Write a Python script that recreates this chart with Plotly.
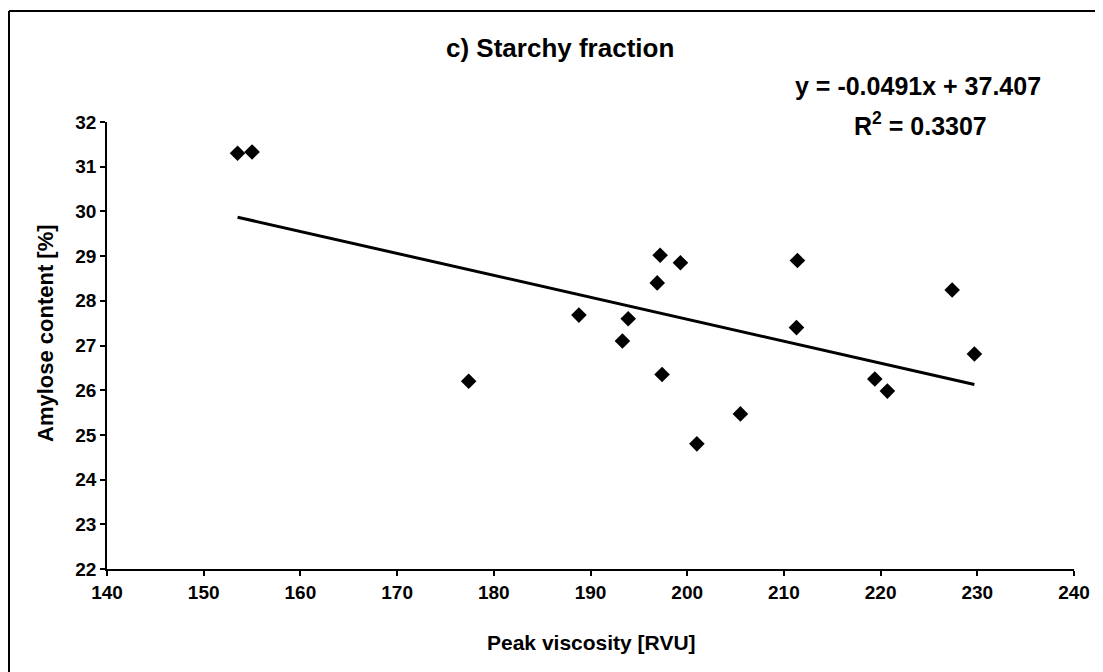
import plotly.graph_objects as go

# Data
peak_viscosity = [153.5, 155.0, 177.4, 188.8, 193.3, 193.9, 196.9, 197.2, 197.4,
                  199.3, 201.0, 205.5, 211.3, 211.4, 219.4, 220.7, 227.4, 229.7]
amylose = [31.3, 31.33, 26.2, 27.68, 27.1, 27.6, 28.4, 29.02, 26.35,
           28.85, 24.8, 25.47, 27.4, 28.9, 26.25, 25.98, 28.24, 26.81]

slope = -0.0491
intercept = 37.407
r_squared = 0.3307

x_ticks = [140, 150, 160, 170, 180, 190, 200, 210, 220, 230, 240]
y_ticks = [22, 23, 24, 25, 26, 27, 28, 29, 30, 31, 32]

FONT = "Arial, 'Liberation Sans', sans-serif"

trend_x = [min(peak_viscosity), max(peak_viscosity)]
trend_y = [slope * v + intercept for v in trend_x]

fig = go.Figure()
fig.add_trace(go.Scatter(
    x=trend_x, y=trend_y, mode="lines",
    line=dict(color="black", width=3), hoverinfo="skip", showlegend=False))
fig.add_trace(go.Scatter(
    x=peak_viscosity, y=amylose, mode="markers",
    marker=dict(symbol="diamond", size=12, color="black"), showlegend=False))

# page has an 8px body margin; figure occupies page 8..1103 x 8..672
OFF = 8
W, H = 1103 - OFF, 672 - OFF
L, T = 107 - OFF, 122 - OFF
pw, ph = 967, 447
R = W - L - pw
B = H - T - ph

def px(page_x):
    return (page_x - OFF - L) / pw

def py(page_y):
    return (T + ph - (page_y - OFF)) / ph

def label(text, x, y, size, angle=0):
    return dict(text=text, xref="paper", yref="paper", x=px(x), y=py(y),
                xanchor="center", yanchor="middle", showarrow=False,
                textangle=angle, font=dict(size=size, family=FONT, color="black"))

fig.update_layout(
    width=W, height=H,
    margin=dict(l=L, r=R, t=T, b=B),
    paper_bgcolor="white", plot_bgcolor="white",
    font=dict(family=FONT, color="black"),
    xaxis=dict(
        range=[140, 240], tickvals=x_ticks,
        ticktext=[f"<b>{v}</b>" for v in x_ticks],
        ticks="outside", ticklen=5,
        tickwidth=1.5, tickcolor="black", showline=True, linecolor="black",
        linewidth=1.5, showgrid=False, zeroline=False,
        tickfont=dict(size=19, family=FONT, color="black", weight="bold"),
    ),
    yaxis=dict(
        range=[22, 32], tickvals=y_ticks,
        ticktext=[f"<b>{v}</b>" for v in y_ticks],
        ticks="outside", ticklen=5,
        tickwidth=1.5, tickcolor="black", showline=True, linecolor="black",
        linewidth=1.5, showgrid=False, zeroline=False,
        tickfont=dict(size=19, family=FONT, color="black", weight="bold"),
    ),
    annotations=[
        label("<b>c) Starchy fraction</b>", 560, 48, 26),
        label("<b>y = -0.0491x + 37.407</b>", 918, 86, 25),
        label("<b>R<sup>2</sup> = 0.3307</b>", 920, 124, 25),
        label("<b>Peak viscosity [RVU]</b>", 591, 642, 21),
        label("<b>Amylose content [%]</b>", 45, 333, 22, angle=-90),
    ],
    shapes=[
        dict(type="line", xref="paper", yref="paper", x0=px(9), x1=px(9),
             y0=py(11), y1=py(672), line=dict(color="black", width=2)),
        dict(type="line", xref="paper", yref="paper", x0=px(9), x1=px(1100),
             y0=py(11), y1=py(11), line=dict(color="black", width=2)),
        dict(type="line", xref="paper", yref="paper", x0=px(1100), x1=px(1100),
             y0=py(11), y1=py(672), line=dict(color="black", width=2)),
    ],
)

fig.write_html("out.html")
